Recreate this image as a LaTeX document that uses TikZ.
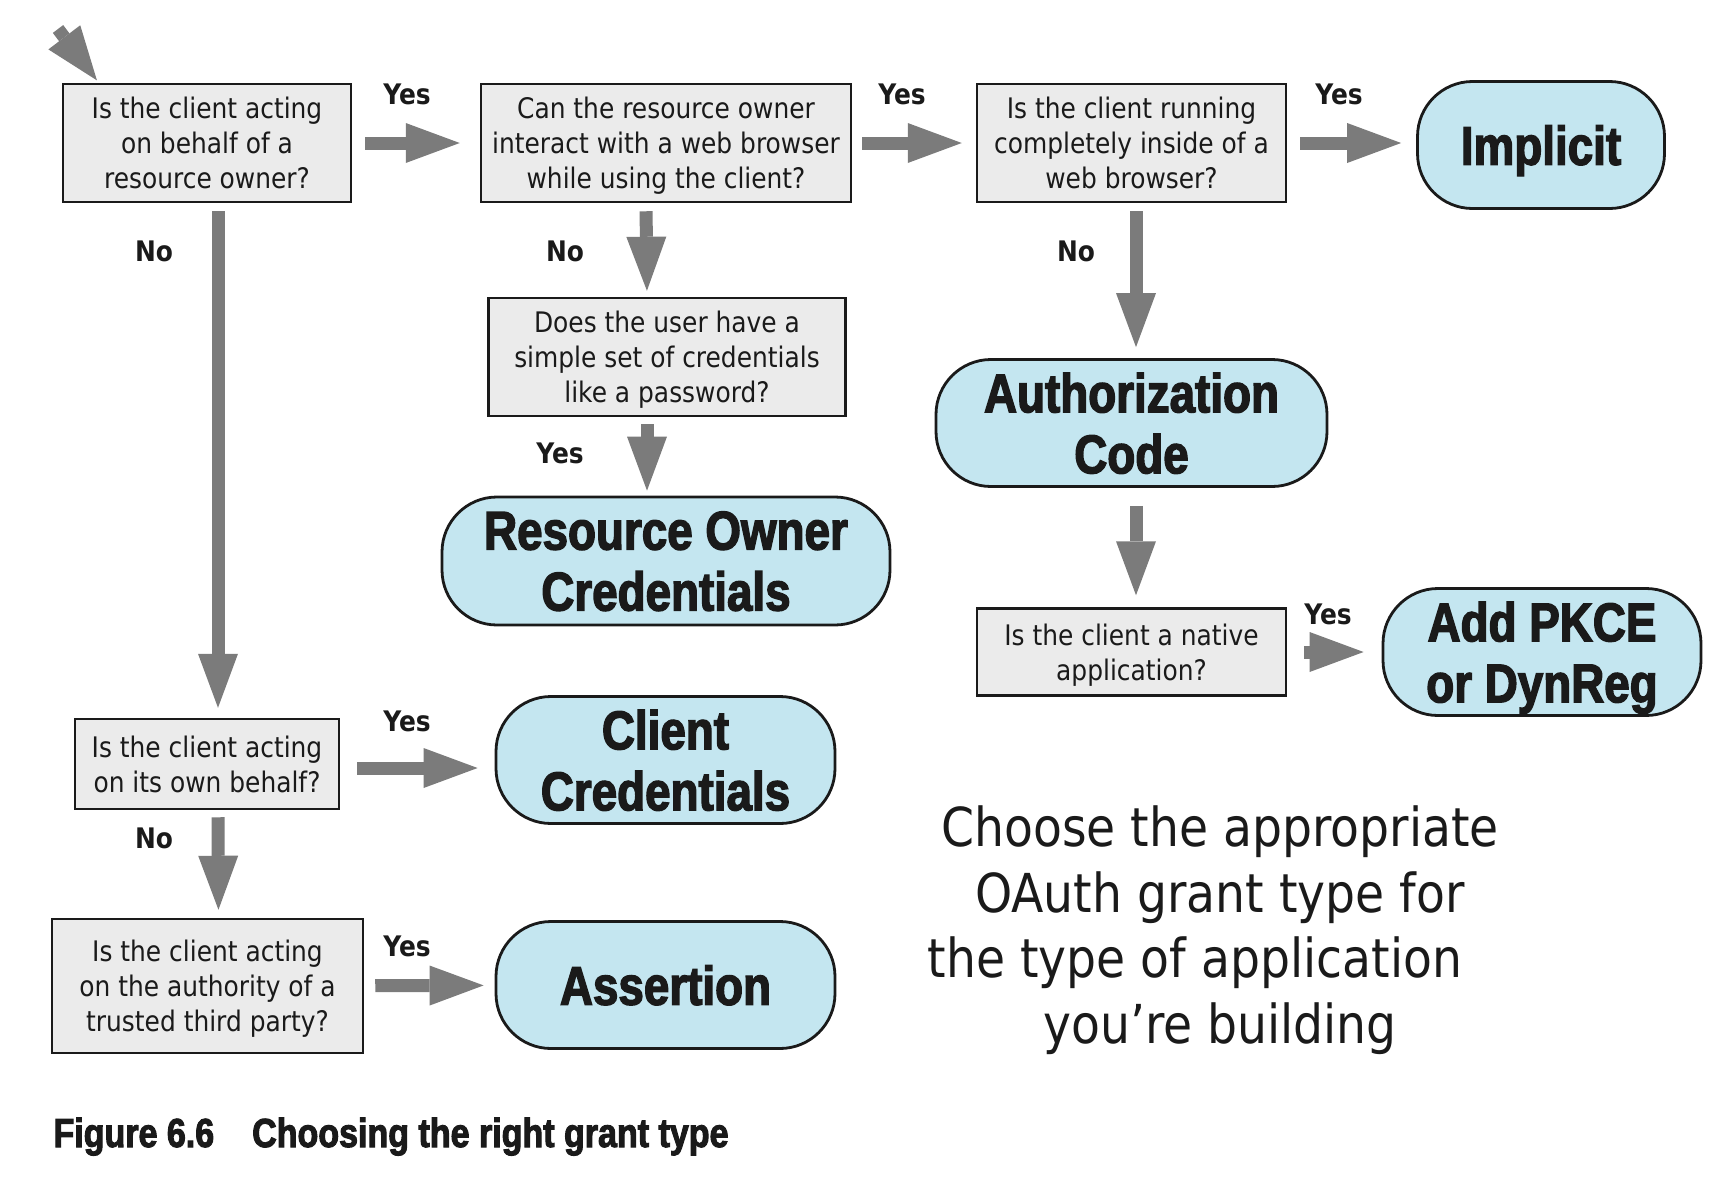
\documentclass[tikz,border=0pt]{standalone}
\usepackage{fontspec}
\setmainfont{DejaVu Sans}[FakeStretch=0.88]
\newfontfamily\grantfont{Liberation Sans}[FakeStretch=0.84, BoldFeatures={FakeBold=2.5}]
\usetikzlibrary{arrows.meta}

\definecolor{boxgray}{HTML}{EBEBEB}
\definecolor{grantblue}{HTML}{C4E6F0}
\definecolor{arrowgray}{HTML}{7B7B7B}
\definecolor{inkblack}{HTML}{1A1A1A}

\tikzset{
    question/.style={draw=inkblack, line width=2.5pt, fill=boxgray, align=center,
        inner sep=0pt, text depth=0pt, text=inkblack, font=\fontsize{28.3}{35}\selectfont},
    grant/.style={draw=inkblack, line width=2.8pt, fill=grantblue, rounded corners=55pt,
        align=center, inner sep=0pt, text depth=0pt, text=inkblack,
        font=\grantfont\bfseries\fontsize{54.5}{61}\selectfont},
    answer/.style={text=inkblack, font=\bfseries\fontsize{28.3}{34}\selectfont},
    flow/.style={draw=arrowgray, line width=13pt,
        -{Triangle[width=40pt, length=54pt, line width=0pt]},
        shorten <=10pt, shorten >=12pt}
}

\begin{document}
\begin{tikzpicture}[x=1pt, y=-1pt]
    \useasboundingbox (0,0) rectangle (1730,1184);

    % questions and grant types
    \node[question, minimum width=288pt, minimum height=118pt] (qA) at (207,143) {Is the client acting\\on behalf of a\\resource owner?};
    \node[question, minimum width=370pt, minimum height=118pt] (qB) at (666,143) {Can the resource owner\\interact with a web browser\\while using the client?};
    \node[question, minimum width=309pt, minimum height=118pt] (qC) at (1131.5,143) {Is the client running\\completely inside of a\\web browser?};
    \node[grant, minimum width=247pt, minimum height=127pt] (implicit) at (1541,145) {Implicit};

    \node[question, minimum width=357pt, minimum height=118pt] (qD) at (667,357) {Does the user have a\\simple set of credentials\\like a password?};
    \node[grant, minimum width=448pt, minimum height=128pt] (ropc) at (666,561) {Resource Owner\\Credentials};

    \node[grant, minimum width=391pt, minimum height=127pt] (authcode) at (1131.5,423) {Authorization\\Code};
    \node[question, minimum width=309pt, minimum height=87pt] (qE) at (1131.5,652) {Is the client a native\\application?};
    \node[grant, minimum width=318pt, minimum height=127pt] (pkce) at (1542,652) {Add PKCE\\or DynReg};

    \node[question, minimum width=264pt, minimum height=90pt] (qF) at (207,764) {Is the client acting\\on its own behalf?};
    \node[grant, minimum width=339pt, minimum height=127pt] (clientcred) at (665.5,760) {Client\\Credentials};
    \node[question, minimum width=311pt, minimum height=134pt] (qG) at (207.5,986) {Is the client acting\\on the authority of a\\trusted third party?};
    \node[grant, minimum width=339pt, minimum height=127pt] (assertion) at (665.5,985) {Assertion};

    % yes / no
    \node[answer] (yesAB) at (407,94) {Yes};
    \node[answer] (yesBC) at (902,94) {Yes};
    \node[answer] (yesC) at (1339,94) {Yes};
    \node[answer] (yesD) at (560,453) {Yes};
    \node[answer] (yesE) at (1328,614) {Yes};
    \node[answer] (yesF) at (407,721) {Yes};
    \node[answer] (yesG) at (407,946) {Yes};
    \node[answer] (noA) at (154,251) {No};
    \node[answer] (noB) at (565,251) {No};
    \node[answer] (noC) at (1076,251) {No};
    \node[answer] (noF) at (154,838) {No};

    % connectors
    \coordinate (entry) at (58,29);
    \draw[flow, shorten <=0pt, shorten >=3pt] (entry) -- ([xshift=37pt]qA.north west);
    \draw[flow, shorten <=13pt, shorten >=20pt] (qA) -- (qB);
    \draw[flow, shorten >=14pt] (qB) -- (qC);
    \draw[flow, shorten <=13pt, shorten >=15pt] (qC.east) -- (qC.east -| implicit.west);
    \draw[flow, shorten <=8pt, shorten >=10pt] ([xshift=11pt]qA.south) -- ([xshift=11pt]qF.north);
    \draw[flow, shorten <=8pt, shorten >=6pt] ([xshift=-20pt]qB.south) -- ([xshift=-20pt]qD.north);
    \draw[flow, shorten <=7pt, shorten >=5pt] ([xshift=-20pt]qD.south) -- ([xshift=-19pt]ropc.north);
    \draw[flow, shorten <=8pt, shorten >=11pt] ([xshift=4.5pt]qC.south) -- ([xshift=4.5pt]authcode.north);
    \draw[flow, shorten <=18pt, shorten >=12pt] ([xshift=4.5pt]authcode.south) -- ([xshift=4.5pt]qE.north);
    \draw[flow, shorten <=17pt, shorten >=18pt] (qE) -- (pkce);
    \draw[flow, shorten <=17pt, shorten >=17pt] ([yshift=-4pt]qF.east) -- ([yshift=-4pt]qF.east -| clientcred.west);
    \draw[flow, shorten <=7pt, shorten >=8pt] ([xshift=11pt]qF.south) -- ([xshift=11pt]qG.north);
    \draw[flow, shorten <=11pt, shorten >=11pt] (qG) -- (assertion);

    % note and caption
    \node[align=center, text=inkblack, font=\fontsize{53.7}{65.5}\selectfont] (note) at (1220,930)
        {Choose the appropriate\\OAuth grant type for\\the type of application\rule{50pt}{0pt}\\you’re building};
    \node[anchor=base west, text=inkblack, font=\grantfont\bfseries\fontsize{40.5}{45}\selectfont] (caption) at (50,1147)
        {Figure 6.6\hspace{38pt}Choosing the right grant type};
\end{tikzpicture}
\end{document}
